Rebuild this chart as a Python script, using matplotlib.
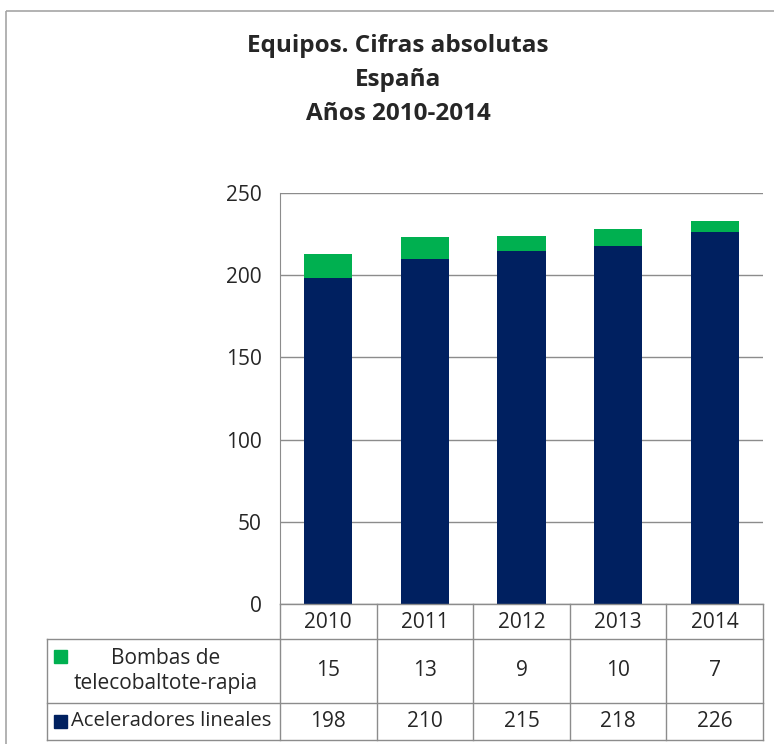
import matplotlib.pyplot as plt
from matplotlib.patches import Rectangle

plt.rcParams['font.family'] = ['Open Sans', 'DejaVu Sans']

years = ['2010', '2011', '2012', '2013', '2014']
aceleradores = [198, 210, 215, 218, 226]
bombas = [15, 13, 9, 10, 7]
serie_names = ['Bombas de\ntelecobaltote-rapia', 'Aceleradores lineales']
c_navy = '#002060'
c_green = '#00B050'
c_grid = '#8C8C8C'

W, H = 774, 744
fig = plt.figure(figsize=(W / 100, H / 100), dpi=100)

# area del grafico (en pixeles: izq 280, der 763, arriba 193, abajo 604)
L, R, T, B = 280, 763, 193, 604
ax = fig.add_axes([L / W, 1 - B / H, (R - L) / W, (B - T) / H])
x = range(len(years))
ax.bar(x, aceleradores, width=0.5, color=c_navy, zorder=3)
ax.bar(x, bombas, width=0.5, bottom=aceleradores, color=c_green, zorder=3)
ax.set_xlim(-0.5, len(years) - 0.5)
ax.set_ylim(0, 250)
ax.set_yticks(range(0, 251, 50))
ax.set_xticks([])
ax.grid(axis='y', color=c_grid, linewidth=1, zorder=0)
for s in ['top', 'right', 'bottom']:
    ax.spines[s].set_visible(False)
ax.spines['left'].set_color(c_grid)
ax.tick_params(axis='y', length=0, pad=13, labelsize=15, colors='#262626')

# tabla de datos + titulo, en coordenadas de pixel
tb = fig.add_axes([0, 0, 1, 1], zorder=5)
tb.set_xlim(0, W)
tb.set_ylim(H, 0)
tb.axis('off')
tb.patch.set_alpha(0)

# marco exterior
tb.add_patch(Rectangle((6, 11), W, H, fill=False, edgecolor='#A6A6A6', lw=1.2))

tb.text(398, 46, 'Equipos. Cifras absolutas', ha='center', va='center',
        fontsize=17.5, fontweight='bold', color='#262626')
tb.text(398, 80, 'España', ha='center', va='center',
        fontsize=17.5, fontweight='bold', color='#262626')
tb.text(398, 114, 'Años 2010-2014', ha='center', va='center',
        fontsize=17.5, fontweight='bold', color='#262626')

tl = 47
cols = [L + (R - L) * i / len(years) for i in range(len(years) + 1)]
rows = [604, 639, 703, 740]
lc = '#8C8C8C'
# lineas horizontales
tb.plot([L, R], [rows[0], rows[0]], color=lc, lw=1)
for yy in rows[1:]:
    tb.plot([tl, R], [yy, yy], color=lc, lw=1)
# lineas verticales
for xx in cols:
    tb.plot([xx, xx], [rows[0], rows[3]], color=lc, lw=1)
tb.plot([tl, tl], [rows[1], rows[3]], color=lc, lw=1)

fs = 15
for i, yr in enumerate(years):
    cx = (cols[i] + cols[i + 1]) / 2
    tb.text(cx, (rows[0] + rows[1]) / 2 + 1, yr, ha='center', va='center', fontsize=fs, color='#262626')
    tb.text(cx, (rows[1] + rows[2]) / 2, str(bombas[i]), ha='center', va='center', fontsize=fs, color='#262626')
    tb.text(cx, (rows[2] + rows[3]) / 2, str(aceleradores[i]), ha='center', va='center', fontsize=fs, color='#262626')

tb.add_patch(Rectangle((54, 650), 13, 13, color=c_green))
tb.text(166, (rows[1] + rows[2]) / 2, serie_names[0], ha='center', va='center',
        fontsize=fs, color='#262626', linespacing=1.3)
tb.add_patch(Rectangle((54, 715), 13, 13, color=c_navy))
tb.text(71, (rows[2] + rows[3]) / 2, serie_names[1], ha='left', va='center',
        fontsize=14.6, color='#262626')

fig.savefig('out.png', dpi=100)
